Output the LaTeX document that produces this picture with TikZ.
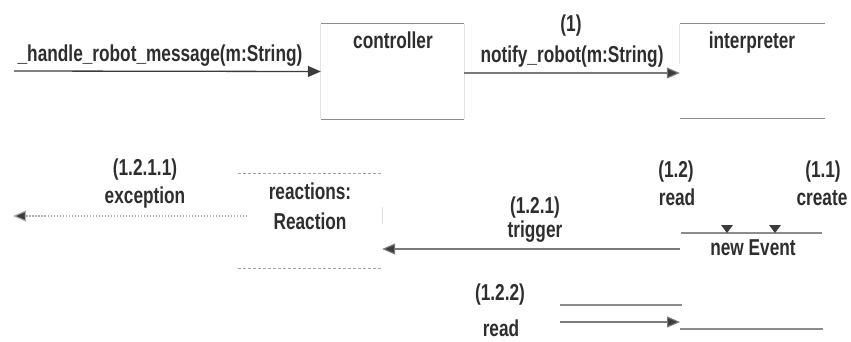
\documentclass[tikz,border=0pt]{standalone}
\usepackage{fontspec}
\setmainfont{Liberation Sans}[FakeStretch=0.75]
\usetikzlibrary{arrows.meta}
\definecolor{txt}{HTML}{2E2E2E}
\definecolor{boxc}{HTML}{8C8C8C}
\definecolor{faintc}{HTML}{E2E2E2}
\definecolor{headc}{HTML}{3C3C3C}
\definecolor{msgc}{HTML}{7A7A7A}
\begin{document}
\begin{tikzpicture}[x=1pt,y=-1pt,
  lbl/.style={anchor=base,inner sep=0pt,text=txt,font=\fontsize{23}{27}\selectfont\bfseries},
  obj/.style={inner sep=0pt,draw=none},
  boxline/.style={draw=boxc,line width=1.1pt},
  faintline/.style={draw=faintc,line width=0.8pt},
  dashline/.style={draw=boxc!80,line width=1.1pt,dash pattern=on 3pt off 2pt},
  msg/.style={draw=msgc,line width=1.1pt,-{Triangle[length=13pt,width=11pt,fill=headc]}},
  msgdark/.style={draw=headc,line width=1.3pt,-{Triangle[length=13pt,width=11pt,fill=headc]}},
  msgdot/.style={draw=boxc!70,line width=1.1pt,dash pattern=on 1.5pt off 1.5pt,-{Triangle[length=13pt,width=11pt,fill=headc]}},
  head/.style={fill=headc,draw=none}]
\useasboundingbox (0,0) rectangle (851,341);

% objects
\node[obj,minimum width=143,minimum height=95] (ctrl) at (392.5,71.5) {};
\draw[faintline] (ctrl.north west) -- (ctrl.south west) (ctrl.north east) -- (ctrl.south east);
\draw[boxline] (ctrl.north west) -- (ctrl.north east) (ctrl.south west) -- (ctrl.south east);
\node[lbl] (ctrllbl) at (393,48) {controller};

\node[obj,minimum width=145,minimum height=94] (interp) at (752.5,71) {};
\draw[faintline] (interp.north west) -- ([yshift=-40pt]interp.north west);
\draw[boxline] (interp.north west) -- (interp.north east) (interp.south west) -- (interp.south east);
\node[lbl] (interplbl) at (752,48) {interpreter};

\node[obj,minimum width=144,minimum height=94] (reac) at (310,221) {};
\draw[faintline] ([yshift=-33pt]reac.north east) -- ([yshift=-50pt]reac.north east);
\draw[dashline] (reac.north west) -- (reac.north east) (reac.south west) -- (reac.south east);
\node[lbl] (reaclbl1) at (310,199) {reactions:};
\node[lbl] (reaclbl2) at (310,229) {Reaction};

\coordinate (evL) at (681,233);
\coordinate (evR) at (822,233);
\draw[boxline] (evL) -- (evR);
\node[lbl] (evlbl) at (753,255) {new Event};

\coordinate (botL) at (680,329);
\coordinate (botR) at (823,329);
\draw[boxline] (botL) -- (botR);

% messages
\coordinate (hS) at (14,71);
\draw[msgdark] (hS) -- (ctrl.west);
\node[lbl] (hlbl) at (160,61) {\_handle\_robot\_message(m:String)};

\draw[msg] (ctrl.east |- 0,73) -- (interp.west |- 0,73);
\node[lbl] (n1) at (571,31) {(1)};
\node[lbl] (nlbl) at (572,62) {notify\_robot(m:String)};

\coordinate (tS) at (680,249);
\draw[msg] (tS) -- (reac.east |- tS);
\node[lbl] (t1) at (535,213) {(1.2.1)};
\node[lbl] (tlbl) at (535,237) {trigger};

\coordinate (eS) at (247,216);
\coordinate (eE) at (13,216);
\draw[msgdot] (eS) -- (eE);
\node[lbl] (e1) at (145,175) {(1.2.1.1)};
\node[lbl] (elbl) at (145,203) {exception};

\fill[head] (721,225) -- (733,225) -- (727,233) -- cycle;
\fill[head] (769,225) -- (781,225) -- (775,233) -- cycle;
\node[lbl] (r1) at (676,177) {(1.2)};
\node[lbl] (rlbl) at (677,205) {read};
\node[lbl] (c1) at (823,177) {(1.1)};
\node[lbl] (clbl) at (822,205) {create};

\coordinate (bA) at (560,305);
\coordinate (bB) at (682,305);
\draw[boxline] (bA) -- (bB);
\coordinate (bS) at (560,322);
\draw[msg] (bS) -- (botL |- bS);
\node[lbl] (b1) at (500,300) {(1.2.2)};
\node[lbl] (blbl) at (501,336) {read};
\end{tikzpicture}
\end{document}
